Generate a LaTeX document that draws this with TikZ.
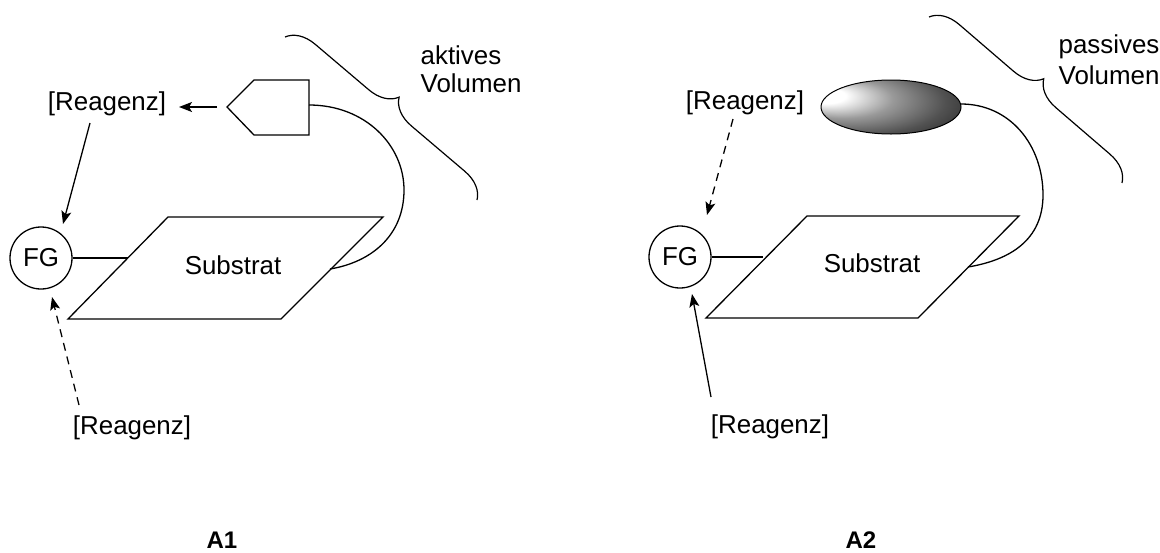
\documentclass[tikz,border=0pt]{standalone}
\usepackage{fontspec}
\setmainfont{Liberation Sans}
\usetikzlibrary{decorations.pathreplacing,arrows.meta,shapes.geometric}
\pgfdeclareradialshading{ellshade}{\pgfpoint{-27bp}{12bp}}{color(0bp)=(white); color(7bp)=(white); color(18bp)=(black!40); color(30bp)=(black!68); color(42bp)=(black!88); color(50bp)=(black)}
\begin{document}
\begin{tikzpicture}[x=1pt,y=-1pt,line width=1.3pt,
  lbl/.style={font=\fontsize{25.9}{31}\selectfont,inner sep=0pt},
  ttl/.style={font=\fontsize{24}{29}\selectfont\bfseries,inner sep=0pt},
  arr/.style={-{Stealth[length=13pt,width=10pt,inset=3pt]}},
  dsh/.style={dash pattern=on 8pt off 6pt},
  bracedeco/.style={decorate,decoration={brace,amplitude=28pt},line width=1.2pt},
  fgnode/.style={circle,draw,minimum size=62pt,inner sep=0pt,font=\fontsize{25.9}{31}\selectfont}]
\useasboundingbox (0,0) rectangle (1160,552);

% ---------------- A1 ----------------
\node[lbl] (r1t) at (107,104) {[Reagenz]};
\node[lbl] (r1b) at (132,428) {[Reagenz]};
\node[fgnode] (fg1) at (41,258) {FG};
\draw (227,107) coordinate (p1tip) -- (254,80) -- (309,80) coordinate (p1tr) -- (309,135) -- (254,135) -- cycle;
\coordinate (p1r) at (309,105);
\draw (168,217) -- (383,217) -- (281,319) -- (68,319) -- cycle;
\coordinate (s1l) at (128,258);
\coordinate (s1r) at (330,269);
\node[lbl] (sub1) at (233,265) {Substrat};
\draw (fg1.east) -- (s1l);
\draw (p1r) .. controls (365,105) and (404,145) .. (404,190) .. controls (404,235) and (372,262) .. (s1r);
\coordinate (a1s) at (217,107);
\coordinate (a1e) at (179,107);
\draw[arr] (a1s) -- (a1e);
\coordinate (b1s) at (90,123);
\coordinate (b1e) at (63,224);
\draw[arr] (b1s) -- (b1e);
\coordinate (c1s) at (79,405);
\coordinate (c1e) at (52,297);
\draw[arr,dsh] (c1s) -- (c1e);
\coordinate (br1a) at (285,37);
\coordinate (br1b) at (477,200);
\draw[bracedeco] (br1a) -- (br1b);
\node[lbl,anchor=west] (akt) at (420,55) {aktives};
\node[lbl,anchor=west] (vol1) at (420,83) {Volumen};
\node[ttl] (A1) at (222,540) {A1};

% ---------------- A2 ----------------
\node[lbl] (r2t) at (745,103) {[Reagenz]};
\node[lbl] (r2b) at (770,427) {[Reagenz]};
\node[fgnode] (fg2) at (680,257) {FG};
\node[ellipse,draw,line width=1pt,minimum width=140pt,minimum height=54pt,shading=ellshade] (ell) at (891,107) {};
\draw (807,216) -- (1019,216) -- (918,318) -- (706,318) -- cycle;
\coordinate (s2l) at (763,257);
\coordinate (s2r) at (968,267);
\node[lbl] (sub2) at (872,263) {Substrat};
\draw (fg2.east) -- (s2l);
\coordinate (e2r) at (961,104);
\draw (e2r) .. controls (1010,104) and (1043,145) .. (1043,195) .. controls (1043,240) and (1010,260) .. (s2r);
\coordinate (b2s) at (733,119);
\coordinate (b2e) at (707,215);
\draw[arr,dsh] (b2s) -- (b2e);
\coordinate (c2s) at (711,397);
\coordinate (c2e) at (692,294);
\draw[arr] (c2s) -- (c2e);
\coordinate (br2a) at (929,17);
\coordinate (br2b) at (1122,183);
\draw[bracedeco] (br2a) -- (br2b);
\node[lbl,anchor=west] (pas) at (1058,47) {passives};
\node[lbl,anchor=west] (vol2) at (1058,75) {Volumen};
\node[ttl] (A2) at (861,540) {A2};
\end{tikzpicture}
\end{document}
